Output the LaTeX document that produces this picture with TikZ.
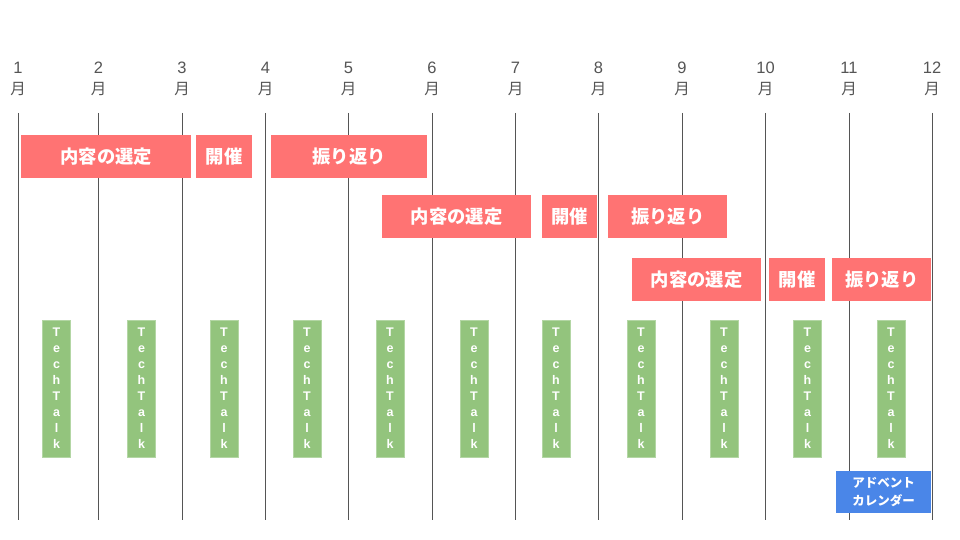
\documentclass[tikz,border=0pt]{standalone}
\usepackage{fontspec}
\setmainfont{Liberation Sans}
\newfontfamily\jp{Noto Sans CJK JP}
\definecolor{barred}{HTML}{FF7373}
\definecolor{ttgreen}{HTML}{93C47D}
\definecolor{advblue}{HTML}{4A86E8}
\definecolor{axisgray}{HTML}{555555}
\tikzset{
  gridline/.style={draw=axisgray, line width=1pt},
  monthnum/.style={text=axisgray, font=\fontsize{16.5}{16.5}\selectfont, inner sep=0pt},
  monthkanji/.style={text=axisgray, font=\jp\fontsize{15.5}{15.5}\selectfont, inner sep=0pt},
  phase/.style={fill=barred, text=white, font=\jp\bfseries\fontsize{18.3}{18.3}\selectfont, inner sep=0pt, anchor=north west, minimum height=42.5pt},
  techtalk/.style={fill=ttgreen, draw=ttgreen!70!white, line width=0.6pt, text=white, font=\bfseries\fontsize{12.5}{16}\selectfont, align=center, inner sep=0pt, minimum width=28pt, minimum height=137pt},
  advent/.style={fill=advblue, text=white, font=\jp\bfseries\fontsize{12.5}{18.5}\selectfont, align=center, inner sep=0pt, anchor=north west, minimum width=95pt, minimum height=42pt},
}
\begin{document}
\begin{tikzpicture}[x=1pt,y=-1pt]
\useasboundingbox (0,0) rectangle (960,540);
\foreach \i/\xx in {1/18,2/98.5,3/182,4/265.5,5/348.5,6/432,7/515.5,8/598.5,9/682,10/765.5,11/849,12/932}{
  \coordinate (t\i) at (\xx,113);
  \coordinate (b\i) at (\xx,520);
  \draw[gridline] (t\i) -- (b\i);
  \node[monthnum] (n\i) at (\xx,67.5) {\i};
  \node[monthkanji] (m\i) at (\xx,89) {月};
}
% row 1
\node[phase, minimum width=170pt] (s1) at (21,135) {内容の選定};
\node[phase, minimum width=56pt] (k1) at (196,135) {開催};
\node[phase, minimum width=156pt] (f1) at (271,135) {振り返り};
% row 2
\node[phase, minimum width=149pt] (s2) at (382,195) {内容の選定};
\node[phase, minimum width=55pt] (k2) at (542,195) {開催};
\node[phase, minimum width=119pt] (f2) at (608,195) {振り返り};
% row 3
\node[phase, minimum width=129pt] (s3) at (632,258) {内容の選定};
\node[phase, minimum width=56pt] (k3) at (769,258) {開催};
\node[phase, minimum width=99pt] (f3) at (832,258) {振り返り};
% tech talks
\foreach \j/\cx in {1/56.5,2/141.5,3/224,4/307,5/390,6/474,7/556,8/641,9/724,10/807.5,11/891}{
  \node[techtalk] (tt\j) at (\cx,388.5) {T\\e\\c\\h\\T\\a\\l\\k};
}
\node[advent] (adv) at (836,471) {アドベント\\カレンダー};
\end{tikzpicture}
\end{document}
